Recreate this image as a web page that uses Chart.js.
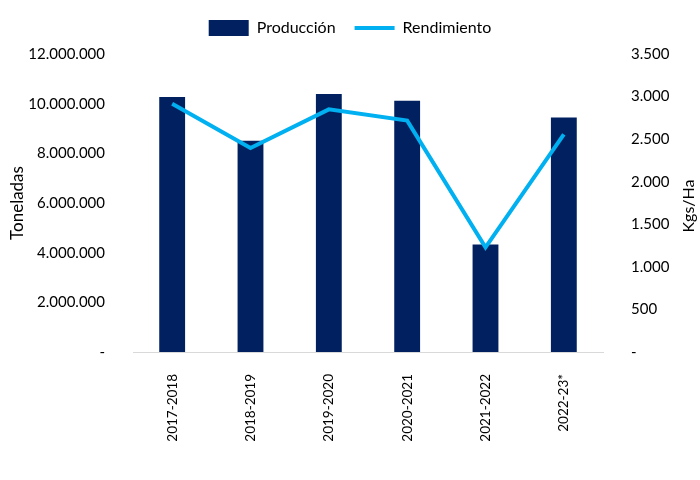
<!DOCTYPE html>
<html>
<head>
<meta charset="utf-8">
<script src="https://cdn.jsdelivr.net/npm/chart.js@4.4.0/dist/chart.umd.min.js"></script>
<style>
  html, body { margin: 0; padding: 0; background: #fff; }
  #wrap { width: 700px; height: 480px; }
</style>
</head>
<body>
<div id="wrap"><canvas id="myChart"></canvas></div>
<script>
const campanias = ['2017-2018', '2018-2019', '2019-2020', '2020-2021', '2021-2022', '2022-23*'];
const produccion = [10270000, 8510000, 10390000, 10120000, 4330000, 9440000];
const rendimiento = [2917, 2395, 2850, 2718, 1229, 2555];

const FONT = 'Lato, "Liberation Sans", sans-serif';
const fmt = v => v === 0 ? '-' : v.toLocaleString('de-DE');

// right axis title reads bottom-to-top in the original
const rightTitle = {
  id: 'rightTitle',
  afterDraw(chart) {
    const { ctx } = chart;
    ctx.save();
    ctx.translate(689, 206);
    ctx.rotate(-Math.PI / 2);
    ctx.fillStyle = '#000';
    ctx.font = '16px ' + FONT;
    ctx.textAlign = 'center';
    ctx.textBaseline = 'middle';
    ctx.fillText('Kgs/Ha', 0, 0);
    ctx.restore();
  }
};

new Chart(document.getElementById('myChart'), {
  data: {
    labels: campanias,
    datasets: [
      {
        type: 'line',
        label: 'Rendimiento',
        data: rendimiento,
        yAxisID: 'y1',
        borderColor: '#00b0f0',
        backgroundColor: '#00b0f0',
        borderWidth: 4,
        pointRadius: 0,
        tension: 0,
        order: 0
      },
      {
        type: 'bar',
        label: 'Producción',
        data: produccion,
        yAxisID: 'y',
        backgroundColor: '#002060',
        categoryPercentage: 1,
        barPercentage: 0.33,
        order: 1
      }
    ]
  },
  options: {
    responsive: true,
    maintainAspectRatio: false,
    animation: false,
    layout: { padding: { top: 1, left: 0, right: 0, bottom: 0 } },
    plugins: {
      legend: {
        position: 'top',
        reverse: true,
        labels: {
          color: '#000',
          font: { family: FONT, size: 16 },
          usePointStyle: true,
          pointStyleWidth: 40,
          boxHeight: 16,
          padding: 19,
          generateLabels(chart) {
            const items = Chart.defaults.plugins.legend.labels.generateLabels(chart);
            items.forEach(it => {
              if (it.text === 'Producción') { it.pointStyle = 'rect'; it.lineWidth = 0; }
              else { it.pointStyle = 'line'; it.lineWidth = 4; it.strokeStyle = '#00b0f0'; }
            });
            return items;
          }
        }
      },
      // empty spacer between legend and plot
      title: {
        display: true,
        text: ' ',
        weight: 500,
        font: { size: 1, lineHeight: 1 },
        padding: { top: 0, bottom: 7 }
      },
      tooltip: { enabled: false }
    },
    scales: {
      x: {
        offset: true,
        grid: { display: false },
        border: { display: true, color: '#d9d9d9', width: 1 },
        ticks: {
          color: '#000',
          font: { family: FONT, size: 13.5 },
          minRotation: 90,
          maxRotation: 90,
          padding: 14
        },
        afterFit(s) { s.height = 128; }
      },
      y: {
        position: 'left',
        min: 0,
        max: 12000000,
        grid: { display: false },
        border: { display: false },
        ticks: {
          stepSize: 2000000,
          color: '#000',
          font: { family: FONT, size: 15 },
          padding: 20,
          callback: fmt
        },
        title: {
          display: true,
          text: 'Toneladas',
          color: '#000',
          font: { family: FONT, size: 17 },
          padding: { top: 7, bottom: 0 }
        },
        afterFit(s) { s.width = 133; }
      },
      y1: {
        position: 'right',
        min: 0,
        max: 3500,
        grid: { display: false },
        border: { display: false },
        ticks: {
          stepSize: 500,
          color: '#000',
          font: { family: FONT, size: 15 },
          padding: 20,
          callback: fmt
        },
        afterFit(s) { s.width = 97; }
      }
    }
  },
  plugins: [rightTitle]
});
</script>
</body>
</html>
